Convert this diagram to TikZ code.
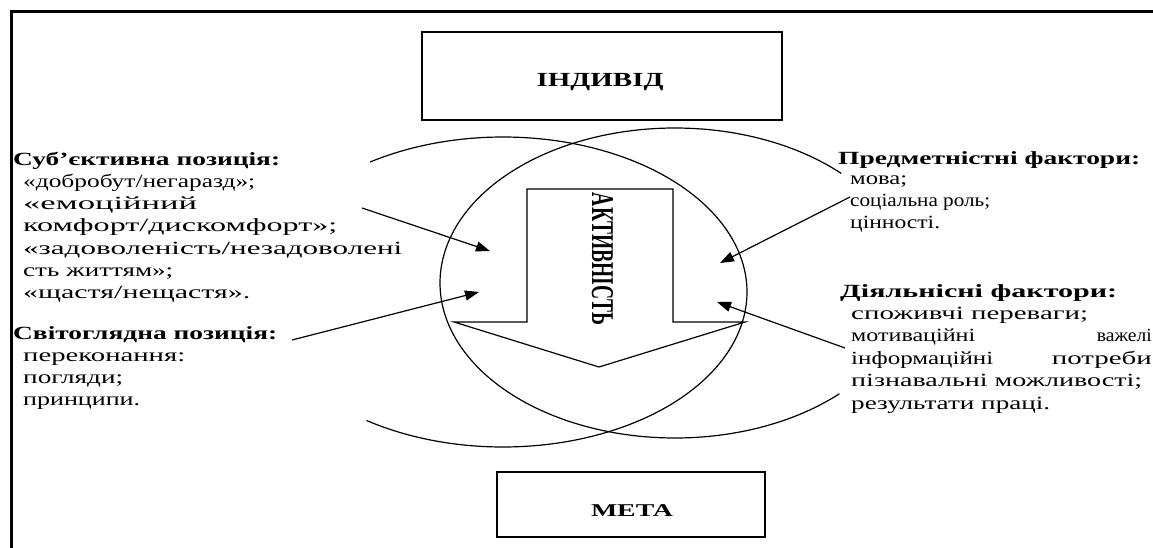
\documentclass[tikz,border=0pt]{standalone}
\usepackage{fontspec}
\usepackage{graphicx}
\setmainfont{Liberation Serif}
\usetikzlibrary{arrows.meta}
\newcommand\fitw[2]{\resizebox{#1pt}{\height}{#2}}
\begin{document}
\begin{tikzpicture}[x=1pt,y=-1pt,
  thin line/.style={line width=1.2pt},
  box/.style={draw, line width=1.5pt, inner sep=0pt},
  boxtxt/.style={inner sep=0pt, anchor=base, font=\fontsize{19}{23}\selectfont\bfseries},
  txt/.style={inner sep=0pt, anchor=base west, font=\fontsize{18.6}{22.3}\selectfont},
  txtr/.style={inner sep=0pt, anchor=base east, font=\fontsize{18.6}{22.3}\selectfont},
  hd/.style={inner sep=0pt, anchor=base west, font=\fontsize{18.6}{22.3}\selectfont\bfseries},
  conn/.style={line width=1.2pt, -{Triangle[length=14pt,width=10pt]}}]
\useasboundingbox (0,0) rectangle (1153,548);
% frame
\draw[line width=3pt] (11,560) -- (11,11.7) -- (1160,11.7);
% boxes
\node[box, minimum width=360, minimum height=88] (ind) at (602,76) {};
\node[boxtxt, font=\fontsize{20}{24}\selectfont\bfseries] (indt) at (600,86.7) {\fitw{127}{ІНДИВІД}};
\node[box, minimum width=268, minimum height=65] (meta) at (631,504.5) {};
\node[boxtxt, font=\fontsize{18}{22}\selectfont\bfseries] (metat) at (632,516) {\fitw{82}{МЕТА}};
% ellipses
\draw[thin line] plot[domain=-124:123, samples=150, smooth] ({503+244*cos(\x)},{292-155*sin(\x)});
\draw[thin line] plot[domain=45:314.4, samples=150, smooth] ({675+235*cos(\x)},{283-155*sin(\x)});
% big arrow
\draw[thin line, line join=miter] (527,189) -- (673,189) -- (673,322) -- (745,322) -- (599,367) -- (454,322) -- (527,322) -- cycle;
\node[inner sep=0pt, rotate=-90, font=\fontsize{19.5}{20}\selectfont\bfseries] (akt) at (602.5,259) {\resizebox{132pt}{21pt}{АКТИВНІСТЬ}};
% left texts
\node[hd] (l0) at (13,165) {\fitw{267}{Суб’єктивна позиція:}};
\node[txt] (l1) at (23,187.3) {\fitw{232}{«добробут/негаразд»;}};
\node[txt] (l2) at (23,209.6) {\fitw{174}{«емоційний}};
\node[txt] (l3) at (23,231.9) {\fitw{314}{комфорт/дискомфорт»;}};
\node[txt] (l4) at (23,254.2) {\fitw{379}{«задоволеність/незадоволені}};
\node[txt] (l5) at (23,276.5) {\fitw{150}{сть життям»;}};
\node[txt] (l6) at (23,298.8) {\fitw{227}{«щастя/нещастя».}};
\node[hd] (m0) at (13,339) {\fitw{264}{Світоглядна позиція:}};
\node[txt] (m1) at (23,361.3) {\fitw{162}{переконання:}};
\node[txt] (m2) at (23,383.6) {\fitw{100}{погляди;}};
\node[txt] (m3) at (23,405.9) {\fitw{117}{принципи.}};
% right texts
\node[hd] (p0) at (838,165) {\fitw{302}{Предметністні фактори:}};
\node[txt] (p1) at (850,185) {\fitw{57}{мова;}};
\node[txt] (p2) at (850,207) {\fitw{140}{соціальна роль;}};
\node[txt] (p3) at (850,229) {\fitw{90}{цінності.}};
\node[hd] (d0) at (840,297) {\fitw{277}{Діяльнісні фактори:}};
\node[txt] (d1) at (851,319) {\fitw{237}{споживчі переваги;}};
\node[txt] (d2) at (851,341.5) {\fitw{124}{мотиваційні}};
\node[txtr] (d2r) at (1152,341.5) {\fitw{55}{важелі}};
\node[txt] (d3) at (851,364) {\fitw{142}{інформаційні}};
\node[txtr] (d3r) at (1152,364) {\fitw{100}{потреби}};
\node[txt] (d4) at (851,386.5) {\fitw{291}{пізнавальні можливості;}};
\node[txt] (d5) at (851,409) {\fitw{199}{результати праці.}};
% connectors
\coordinate (a1s) at (362,208); \coordinate (a1e) at (490,251);
\coordinate (a2s) at (292,340); \coordinate (a2e) at (479,292);
\coordinate (a3s) at (850,197); \coordinate (a3e) at (720,263);
\coordinate (a4s) at (845,348); \coordinate (a4e) at (717,302);
\draw[conn] (a1s) -- (a1e);
\draw[conn] (a2s) -- (a2e);
\draw[conn] (a3s) -- (a3e);
\draw[conn] (a4s) -- (a4e);
\end{tikzpicture}
\end{document}
